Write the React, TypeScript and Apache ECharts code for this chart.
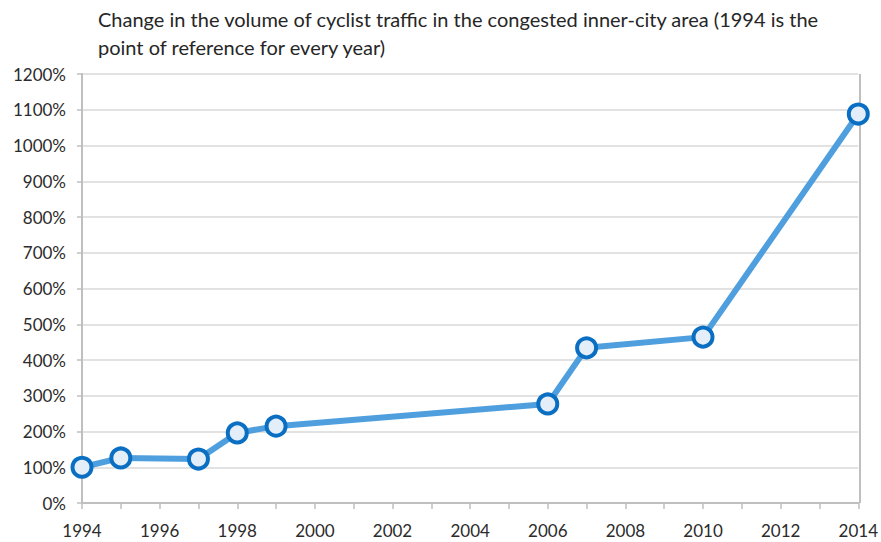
import React, { useEffect, useRef } from "react";
import * as echarts from "echarts";

const titleLines = [
  "Change in the volume of cyclist traffic in the congested inner-city area (1994 is the",
  "point of reference for every year)",
];
const years = [1994, 1995, 1997, 1998, 1999, 2006, 2007, 2010, 2014];
const values = [100, 126, 123, 196, 215, 277, 434, 464, 1088];
const yMin = 0;
const yMax = 1200;
const yStep = 100;
const xMin = 1994;
const xMax = 2014;
const xStep = 2;

export default function App() {
  const ref = useRef<HTMLDivElement>(null);
  useEffect(() => {
    if (!ref.current) return;
    const chart = echarts.init(ref.current, undefined, { renderer: "svg" });
    chart.setOption({
      animation: false,
      backgroundColor: "#ffffff",
      title: {
        text: titleLines.join("\n"),
        left: 93,
        top: 0,
        textStyle: {
          fontFamily: "Lato",
          fontSize: 20,
          fontWeight: "normal",
          color: "#262626",
          lineHeight: 28,
        },
      },
      grid: { left: 82, right: 21, top: 74, bottom: 39, containLabel: false },
      xAxis: {
        type: "value",
        min: xMin,
        max: xMax,
        interval: xStep,
        axisLine: { show: true, lineStyle: { color: "#bfbfbf", width: 2 } },
        axisTick: { show: true, length: 6, lineStyle: { color: "#bfbfbf", width: 1.5 } },
        minorTick: { show: true, splitNumber: 2, length: 6, lineStyle: { color: "#bfbfbf", width: 1.5 } },
        splitLine: { show: false },
        axisLabel: {
          fontFamily: "Lato",
          fontSize: 17,
          color: "#2b2b2b",
          margin: 19,
          formatter: (v: number) => String(v),
        },
      },
      yAxis: {
        type: "value",
        min: yMin,
        max: yMax,
        interval: yStep,
        axisLine: { show: true, lineStyle: { color: "#bfbfbf", width: 2 } },
        axisTick: { show: true, length: 5, lineStyle: { color: "#bfbfbf", width: 1.5 } },
        splitLine: { show: true, lineStyle: { color: "#d9d9d9", width: 1.5 } },
        axisLabel: {
          fontFamily: "Lato",
          fontSize: 17,
          color: "#2b2b2b",
          margin: 16,
          formatter: (v: number) => v + "%",
        },
      },
      graphic: [
        {
          type: "line",
          shape: { x1: 860, y1: 74, x2: 860, y2: 503 },
          style: { stroke: "#bfbfbf", lineWidth: 2 },
        },
      ],
      series: [
        {
          type: "line",
          data: years.map((y, i) => [y, values[i]]),
          lineStyle: { color: "#4f9fde", width: 6 },
          symbol: "circle",
          symbolSize: 19,
          itemStyle: { color: "#e4eef8", borderColor: "#0a6fc2", borderWidth: 4 },
          z: 3,
        },
      ],
    });
    return () => chart.dispose();
  }, []);
  return <div ref={ref} style={{ width: 881, height: 542, position: "absolute", left: 0, top: 0 }} />;
}
